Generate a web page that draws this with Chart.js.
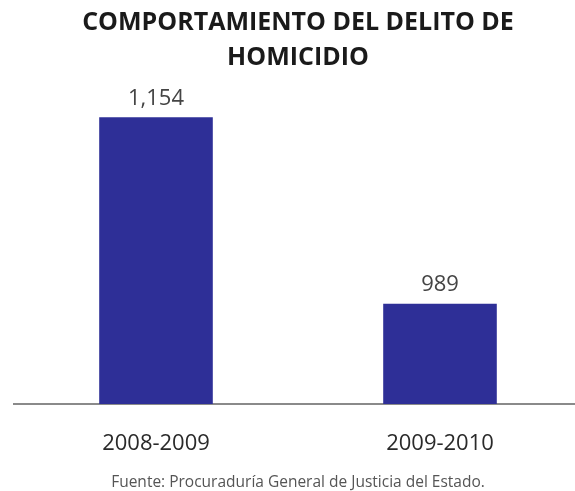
<!DOCTYPE html>
<html>
<head>
<meta charset="utf-8">
<script src="https://cdn.jsdelivr.net/npm/chart.js@4.4.1/dist/chart.umd.min.js"></script>
<style>
  html, body { margin: 0; padding: 0; background: #ffffff; overflow: hidden; }
  #wrap { position: relative; width: 590px; height: 491px; }
</style>
</head>
<body>
<div id="wrap"><canvas id="homicidio-chart"></canvas></div>
<script>
// Datos del gráfico
const periodos = ['2008-2009', '2009-2010'];
const homicidios = [1154, 989];
const tituloLineas = ['COMPORTAMIENTO DEL DELITO DE', 'HOMICIDIO'];
const fuente = 'Fuente: Procuraduría General de Justicia del Estado.';

// Etiquetas de valor encima de cada barra
const valueLabels = {
    id: 'valueLabels',
    afterDatasetsDraw(chart) {
        const ctx = chart.ctx;
        const meta = chart.getDatasetMeta(0);
        ctx.save();
        ctx.font = '22px "Open Sans"';
        ctx.fillStyle = '#444444';
        ctx.textAlign = 'center';
        ctx.textBaseline = 'middle';
        meta.data.forEach((bar, i) => {
            const v = chart.data.datasets[0].data[i];
            ctx.fillText(v.toLocaleString('en-US'), bar.x, bar.y - 19);
        });
        ctx.restore();
    }
};

const ctx = document.getElementById('homicidio-chart');
new Chart(ctx.getContext('2d'), {
    type: 'bar',
    data: {
        labels: periodos,
        datasets: [{
            data: homicidios,
            backgroundColor: '#2e2f97',
            borderWidth: 0,
            barPercentage: 0.40,
            categoryPercentage: 1.0
        }]
    },
    options: {
        responsive: true,
        maintainAspectRatio: false,
        animation: false,
        layout: { padding: { left: 14, right: 8, top: 0, bottom: 0 } },
        plugins: {
            legend: { display: false },
            tooltip: { enabled: false },
            title: {
                display: true,
                text: tituloLineas,
                color: '#1a1a1a',
                font: { family: 'Open Sans', size: 25, weight: 'bold', lineHeight: 35 / 25 },
                padding: { top: 5, bottom: 13 }
            },
            subtitle: {
                display: true,
                position: 'bottom',
                text: fuente,
                color: '#555555',
                font: { family: 'Open Sans', size: 15.5, lineHeight: 1.0 },
                padding: { top: -8, bottom: 1 }
            }
        },
        scales: {
            x: {
                grid: { display: false, drawTicks: false },
                border: { display: true, color: '#8a8a8a', width: 2 },
                ticks: {
                    color: '#2a2a2a',
                    padding: 26,
                    font: { family: 'Open Sans', size: 22, lineHeight: 1.2 }
                }
            },
            y: {
                display: false,
                min: 900,
                max: 1180
            }
        }
    },
    plugins: [valueLabels]
});
</script>
</body>
</html>
